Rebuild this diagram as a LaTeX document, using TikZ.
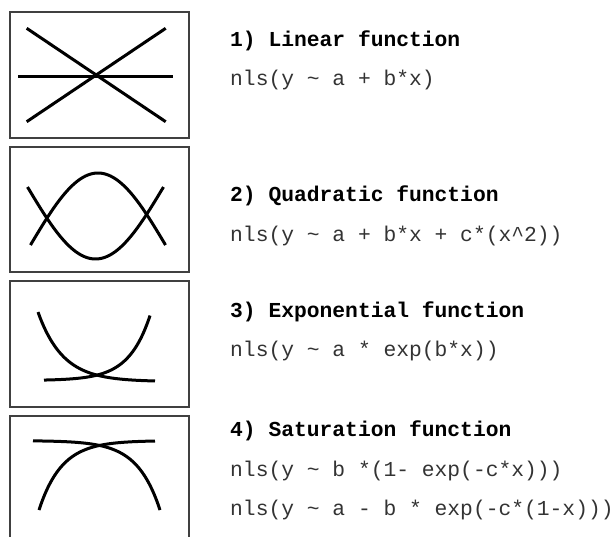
\documentclass[tikz,border=0pt]{standalone}
\usepackage{fontspec}
\setmonofont{Liberation Mono}
\begin{document}
\begin{tikzpicture}[x=1pt,y=-1pt,
  panel/.style={draw=black!75,line width=1.2pt},
  curve/.style={line width=3pt,black},
  heading/.style={anchor=base west,inner sep=0pt,font=\fontsize{21.3}{25}\selectfont\ttfamily\bfseries},
  formula/.style={anchor=base west,inner sep=0pt,text=black!80,font=\fontsize{21.3}{25}\selectfont\ttfamily}]
\useasboundingbox[fill=white] (0,0) rectangle (616,536);
\begin{scope}
\clip (0,0) rectangle (616,536);
% panels
\draw[panel] (10,12) rectangle (189,138);
\draw[panel] (10,147) rectangle (189,272);
\draw[panel] (10,281) rectangle (189,407);
\draw[panel] (10,416) rectangle (189,545);
\end{scope}
% 1) linear
\draw[curve] (26.7,28.3) -- (165.7,121.7);
\draw[curve] (26.7,121.7) -- (165.7,28.3);
\draw[curve] (18.3,76) -- (173.3,76);
% 2) quadratic
\draw[curve] plot[domain=-90:90,samples=60] ({98+67.5*\x/90},{245-72*cos(\x)});
\draw[curve] plot[domain=-90:90,samples=60] ({95.5+68*\x/90},{187+72*cos(\x)});
% 3) exponential
\draw[curve] plot[domain=38:155,samples=80] (\x,{381.6-0.63*exp(0.0402*(155-\x))});
\draw[curve] plot[domain=44:150,samples=80] (\x,{380.5-0.45*exp(0.0469*(\x-44))});
% 4) saturation
\draw[curve] plot[domain=39:155,samples=80] (\x,{440.6+69.4*exp(-0.044*(\x-39))});
\draw[curve] plot[domain=33:160,samples=80] (\x,{440.6+69.4*exp(-0.044*(160-\x))});
% texts
\node[heading] (h1) at (230,46) {1) Linear function};
\node[formula] (f1) at (230,85) {nls(y \textasciitilde{} a + b*x)};
\node[heading] (h2) at (230,201.7) {2) Quadratic function};
\node[formula] (f2) at (230,241.7) {nls(y \textasciitilde{} a + b*x + c*(x\textasciicircum{}2))};
\node[heading] (h3) at (230,317.3) {3) Exponential function};
\node[formula] (f3) at (230,356.7) {nls(y \textasciitilde{} a * exp(b*x))};
\node[heading] (h4) at (230,436) {4) Saturation function};
\node[formula] (f4a) at (230,476) {nls(y \textasciitilde{} b *(1- exp(-c*x)))};
\node[formula] (f4b) at (230,515) {nls(y \textasciitilde{} a - b * exp(-c*(1-x)))};
\end{tikzpicture}
\end{document}
